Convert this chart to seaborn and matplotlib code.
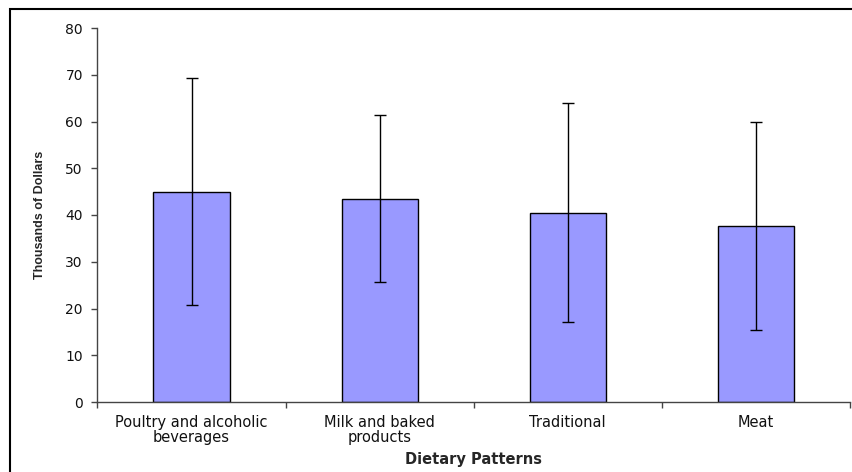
import numpy as np
import pandas as pd
import matplotlib
matplotlib.use("Agg")
import matplotlib.pyplot as plt
import seaborn as sns
from matplotlib.patches import Rectangle

patterns = ["Poultry and alcoholic\nbeverages", "Milk and baked\nproducts", "Traditional", "Meat"]
means = [45.0, 43.5, 40.5, 37.7]
sds = [24.2, 17.8, 23.4, 22.2]

df = pd.DataFrame({"pattern": patterns, "income": means, "sd": sds})

sns.set_style("white")
plt.rcParams["font.family"] = ["DejaVu Sans"]

fig = plt.figure(figsize=(8.53, 4.72), dpi=100)
ax = fig.add_axes([97.5 / 853, 1 - 402 / 472, (850 - 97.5) / 853, (402 - 28) / 472])

sns.barplot(data=df, x="pattern", y="income", color="#9999ff", width=0.405,
            edgecolor="black", linewidth=1, saturation=1, ax=ax, errorbar=None)
ax.errorbar(np.arange(len(means)), df["income"], yerr=df["sd"], fmt="none",
            ecolor="black", elinewidth=1.0, capsize=4.5, capthick=1.0)

ax.set_xlim(-0.5, len(means) - 0.5)
ax.set_ylim(0, 80)
ax.set_yticks(range(0, 81, 10))
ax.set_xticks(np.arange(len(means)))
ax.set_xticklabels(patterns, fontsize=10.5, color="#111111", linespacing=0.95)
ax.tick_params(axis="y", labelsize=10, length=4.5, width=1, color="#444444",
               direction="out", left=True, labelcolor="#111111", pad=6)
ax.tick_params(axis="x", length=0, pad=9.5)
# tick marks at category boundaries
ax.set_xticks(np.arange(len(means) + 1) - 0.5, minor=True)
ax.tick_params(axis="x", which="minor", length=4, width=1, color="#444444",
               direction="out", bottom=True)

for s in ["top", "right"]:
    ax.spines[s].set_visible(False)
for s in ["left", "bottom"]:
    ax.spines[s].set_color("#444444")
    ax.spines[s].set_linewidth(1)

ax.set_xlabel("Dietary Patterns", fontsize=10.5, fontweight="bold", labelpad=5.5)
ax.set_ylabel("Thousands of Dollars", fontsize=9, fontweight="bold", labelpad=14,
              family=["Liberation Sans Narrow", "Liberation Sans", "DejaVu Sans"])

fig.patches.append(Rectangle((10 / 853, -0.05), 1.0, 1 - 9 / 472 + 0.05,
                             transform=fig.transFigure, fill=False,
                             edgecolor="black", linewidth=1.5))

fig.savefig("out.png", dpi=100)
